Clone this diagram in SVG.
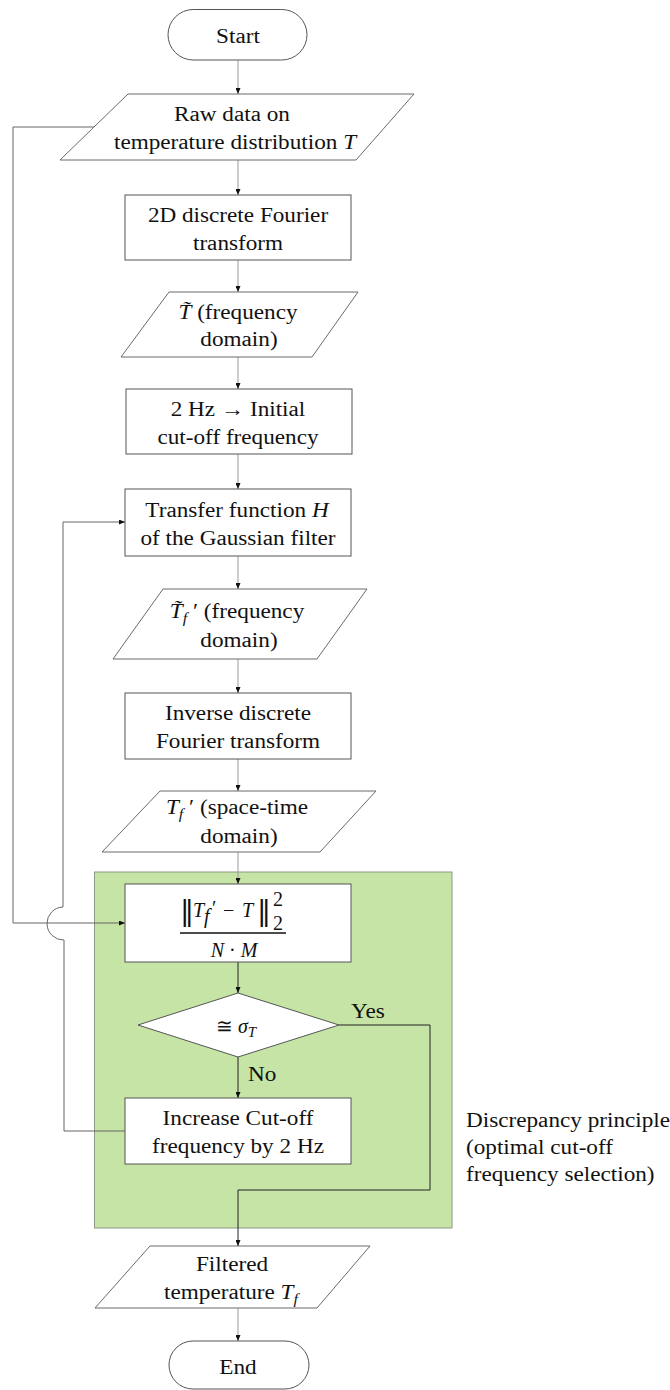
<svg xmlns="http://www.w3.org/2000/svg" width="670" height="1390" viewBox="0 0 670 1390">
<style>
.t{font-family:"Liberation Serif","Times New Roman","DejaVu Serif",serif;font-size:20px;fill:#111}
.mid{text-anchor:middle}
.i{font-style:italic}
.nb{font-family:"DejaVu Serif","Liberation Serif",serif;font-size:28px}
.box{fill:#fff;stroke:#555;stroke-width:1}
.io{fill:#fff;stroke:#6a6a6a;stroke-width:1}
.c{fill:none;stroke:#9a9a9a;stroke-width:1}
.cl{fill:none;stroke:#666;stroke-width:1}
.cd{fill:none;stroke:#222;stroke-width:1}
</style>
<defs>
<marker id="ah" viewBox="0 0 12 10" refX="12" refY="5" markerWidth="6" markerHeight="5" orient="auto" markerUnits="userSpaceOnUse">
<path d="M0,0 L12,5 L0,10 z" fill="#111"/>
</marker>
</defs>

<g id="region">
<rect x="94.5" y="872" width="357.5" height="356" fill="#c5e4a5" stroke="#8c9a84" stroke-width="1"/>
<text class="t" transform="matrix(1.16 0 0 1 466 0)" x="0" y="1127">Discrepancy principle</text>
<text class="t" transform="matrix(1.16 0 0 1 466 0)" x="0" y="1154">(optimal cut-off</text>
<text class="t" transform="matrix(1.16 0 0 1 466 0)" x="0" y="1181">frequency selection)</text>
</g>

<g id="connectors">
<path class="c" d="M238,60 V94" marker-end="url(#ah)"/>
<path class="c" d="M238,160 V195" marker-end="url(#ah)"/>
<path class="c" d="M238,260 V292" marker-end="url(#ah)"/>
<path class="c" d="M238,357 V389" marker-end="url(#ah)"/>
<path class="c" d="M238,454 V489" marker-end="url(#ah)"/>
<path class="c" d="M238,556 V589" marker-end="url(#ah)"/>
<path class="c" d="M238,659 V693" marker-end="url(#ah)"/>
<path class="c" d="M238,759 V791" marker-end="url(#ah)"/>
<path class="c" d="M238,852 V884" marker-end="url(#ah)"/>
<path class="cd" d="M238,962 V993" marker-end="url(#ah)"/>
<path class="cd" d="M238,1057 V1098" marker-end="url(#ah)"/>
<path class="cd" d="M339,1025 H430 V1190 H238 V1246" marker-end="url(#ah)"/>
<path class="c" d="M238,1308 V1341" marker-end="url(#ah)"/>
<path class="cl" d="M94,127 H13 V923 H125" marker-end="url(#ah)"/>
<path class="cl" d="M125,1131 H64 V940 A16.5,16.5 0 0 1 63,907 V522 H125" marker-end="url(#ah)"/>
<text class="t" transform="matrix(1.16 0 0 1 351 0)" x="0" y="1018">Yes</text>
<text class="t" transform="matrix(1.16 0 0 1 248 0)" x="0" y="1081">No</text>
</g>

<g id="start">
<rect class="box" x="168" y="9.5" width="139" height="50.5" rx="25.25"/>
<text class="t mid" transform="matrix(1.16 0 0 1 238 0)" x="0" y="43">Start</text>
</g>

<g id="raw">
<polygon class="io" points="128,94 414,94 356,160 60,160"/>
<text class="t mid" transform="matrix(1.16 0 0 1 232 0)" x="0" y="121">Raw data on</text>
<text class="t mid" transform="matrix(1.16 0 0 1 235 0)" x="0" y="149">temperature distribution  <tspan class="i">T</tspan></text>
</g>

<g id="dft">
<rect class="box" x="125" y="195" width="226" height="65"/>
<text class="t mid" transform="matrix(1.16 0 0 1 238 0)" x="0" y="222">2D discrete Fourier</text>
<text class="t mid" transform="matrix(1.16 0 0 1 238 0)" x="0" y="250">transform</text>
</g>

<g id="ttilde">
<polygon class="io" points="169,292 358,292 312,357 121,357"/>
<text class="t mid" transform="matrix(1.16 0 0 1 238 0)" x="0" y="319"><tspan class="i">T&#x303;</tspan> (frequency</text>
<text class="t mid" transform="matrix(1.16 0 0 1 239 0)" x="0" y="346">domain)</text>
</g>

<g id="init">
<rect class="box" x="126" y="389" width="226" height="65"/>
<text class="t mid" transform="matrix(1.16 0 0 1 238 0)" x="0" y="416">2 Hz →  Initial</text>
<text class="t mid" transform="matrix(1.16 0 0 1 238 0)" x="0" y="444">cut-off frequency</text>
</g>

<g id="transfer">
<rect class="box" x="125" y="489" width="226" height="67"/>
<text class="t mid" transform="matrix(1.16 0 0 1 237 0)" x="0" y="517">Transfer function <tspan class="i">H</tspan></text>
<text class="t mid" transform="matrix(1.16 0 0 1 238 0)" x="0" y="545">of the Gaussian filter</text>
</g>

<g id="tftilde">
<polygon class="io" points="163,589 367,589 317,659 113,659"/>
<text class="t mid" transform="matrix(1.16 0 0 1 237 0)" x="0" y="618"><tspan class="i">T&#x303;</tspan><tspan class="i" font-size="14" dy="5">f</tspan><tspan dy="-5"> ′ (frequency</tspan></text>
<text class="t mid" transform="matrix(1.16 0 0 1 239 0)" x="0" y="647">domain)</text>
</g>

<g id="idft">
<rect class="box" x="125" y="693" width="226" height="66"/>
<text class="t mid" transform="matrix(1.16 0 0 1 238 0)" x="0" y="720">Inverse discrete</text>
<text class="t mid" transform="matrix(1.16 0 0 1 238 0)" x="0" y="748">Fourier transform</text>
</g>

<g id="tfspace">
<polygon class="io" points="160,791 376,791 320,852 102,852"/>
<text class="t mid" transform="matrix(1.16 0 0 1 237 0)" x="0" y="814"><tspan class="i">T</tspan><tspan class="i" font-size="14" dy="5">f</tspan><tspan dy="-5"> ′ (space-time</tspan></text>
<text class="t mid" transform="matrix(1.16 0 0 1 239 0)" x="0" y="843">domain)</text>
</g>

<g id="residual">
<rect class="box" x="125" y="884" width="226" height="78"/>
<text class="t nb" x="180" y="920">‖</text>
<text class="t i" x="193" y="917" font-size="22">T</text>
<text class="t i" x="204" y="923" font-size="15">f</text>
<text class="t" x="212" y="915" font-size="20">′</text>
<text class="t" x="223" y="917" font-size="22">−</text>
<text class="t i" x="242" y="917" font-size="22">T</text>
<text class="t nb" x="257" y="920">‖</text>
<text class="t" x="273" y="906" font-size="15">2</text>
<text class="t" x="273" y="930" font-size="15">2</text>
<line x1="180" y1="933" x2="286" y2="933" stroke="#111" stroke-width="1.3"/>
<text class="t mid" x="234" y="957" font-size="22"><tspan class="i">N</tspan> · <tspan class="i">M</tspan></text>
</g>

<g id="decision">
<polygon class="box" points="238,993 339,1025 238,1057 138,1025"/>
<text class="t mid" x="236" y="1033" font-size="22">≅ <tspan class="i">σ</tspan><tspan class="i" font-size="15" dy="4">T</tspan></text>
</g>

<g id="increase">
<rect class="box" x="125" y="1098" width="226" height="66"/>
<text class="t mid" transform="matrix(1.16 0 0 1 238 0)" x="0" y="1125">Increase Cut-off</text>
<text class="t mid" transform="matrix(1.16 0 0 1 238 0)" x="0" y="1153">frequency by 2 Hz</text>
</g>

<g id="filtered">
<polygon class="io" points="150,1246 370,1246 317,1308 95,1308"/>
<text class="t mid" transform="matrix(1.16 0 0 1 232 0)" x="0" y="1271">Filtered</text>
<text class="t mid" transform="matrix(1.16 0 0 1 231 0)" x="0" y="1299">temperature <tspan class="i">T</tspan><tspan class="i" font-size="14" dy="5">f</tspan></text>
</g>

<g id="end">
<rect class="box" x="169" y="1341" width="140" height="48" rx="24"/>
<text class="t mid" transform="matrix(1.16 0 0 1 238 0)" x="0" y="1374">End</text>
</g>
</svg>
